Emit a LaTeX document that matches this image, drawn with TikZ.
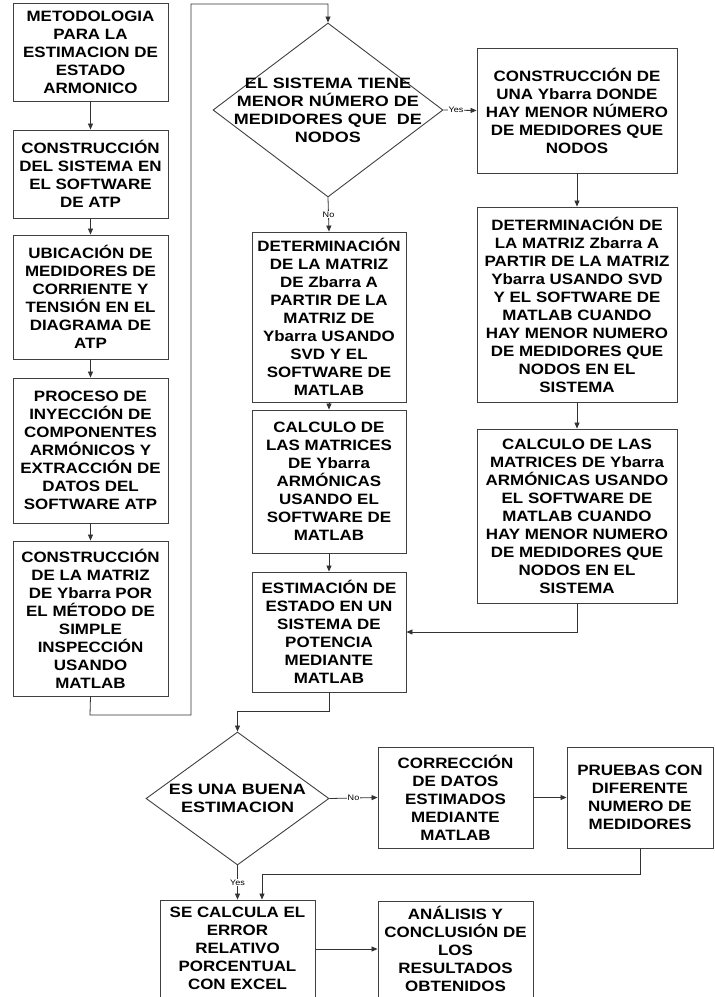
\documentclass[tikz,border=0pt]{standalone}
\usepackage{fontspec}
\setmainfont{Liberation Sans}[FakeStretch=1.13]
\newfontfamily\diafont{Liberation Sans}[FakeStretch=1.2]
\usetikzlibrary{shapes.geometric,arrows.meta}
\tikzset{
  box/.style={draw=black!75, line width=0.9pt, rectangle, align=center, inner sep=1pt,
    font=\bfseries\fontsize{15}{18}\selectfont, text=black},
  wh/.style 2 args={minimum width=#1pt, minimum height=#2pt},
  dia/.style={draw=black!75, line width=0.9pt, diamond, inner sep=0pt},
  dtxt/.style={align=center, inner sep=0pt, font=\diafont\bfseries\fontsize{15}{18}\selectfont},
  arr/.style={draw=black!80, line width=0.8pt, -{Triangle[length=6pt,width=5pt]}},
  lab/.style={fill=white, inner sep=1pt, font=\fontsize{8}{9}\selectfont},
}
\begin{document}
\begin{tikzpicture}[x=1pt,y=-1pt]
\useasboundingbox (0,0) rectangle (715,997);
\clip (0,0) rectangle (715,997);
\fill[white] (0,0) rectangle (715,997);
% left column
\node[box, wh={155}{98}] (b1) at (90.5,52) {METODOLOGIA\\PARA LA\\ESTIMACION DE\\ESTADO\\ARMONICO};
\node[box, wh={155}{88}] (b2) at (90.5,174) {CONSTRUCCIÓN\\DEL SISTEMA EN\\EL SOFTWARE\\DE ATP};
\node[box, wh={155}{124}] (b3) at (90.5,297) {UBICACIÓN DE\\MEDIDORES DE\\CORRIENTE Y\\TENSIÓN EN EL\\DIAGRAMA DE\\ATP};
\node[box, wh={155}{145}] (b4) at (90.5,450.5) {PROCESO DE\\INYECCIÓN DE\\COMPONENTES\\ARMÓNICOS Y\\EXTRACCIÓN DE\\DATOS DEL\\SOFTWARE ATP};
\node[box, wh={155}{155}] (b5) at (90.5,618.5) {CONSTRUCCIÓN\\DE LA MATRIZ\\DE Ybarra POR\\EL MÉTODO DE\\SIMPLE\\INSPECCIÓN\\USANDO\\MATLAB};
% decision 1
\node[dia, minimum width=230pt, minimum height=174pt] (d1) at (328,110) {};
\node[dtxt] (d1t) at (d1.center) {EL SISTEMA TIENE\\MENOR NÚMERO DE\\MEDIDORES QUE\ \ DE\\NODOS};
% right column
\node[box, wh={200}{125}] (r1) at (577,110.5) {CONSTRUCCIÓN DE\\UNA Ybarra DONDE\\HAY MENOR NÚMERO\\DE MEDIDORES QUE\\NODOS};
\node[box, wh={200}{195}] (r2) at (577,304.5) {DETERMINACIÓN DE\\LA MATRIZ Zbarra A\\PARTIR DE LA MATRIZ\\Ybarra USANDO SVD\\Y EL SOFTWARE DE\\MATLAB CUANDO\\HAY MENOR NUMERO\\DE MEDIDORES QUE\\NODOS EN EL\\SISTEMA};
\node[box, wh={200}{174}] (r3) at (577,516) {CALCULO DE LAS\\MATRICES DE Ybarra\\ARMÓNICAS USANDO\\EL SOFTWARE DE\\MATLAB CUANDO\\HAY MENOR NUMERO\\DE MEDIDORES QUE\\NODOS EN EL\\SISTEMA};
% middle column
\node[box, wh={154}{170}] (m1) at (329,317) {DETERMINACIÓN\\DE LA MATRIZ\\DE Zbarra A\\PARTIR DE LA\\MATRIZ DE\\Ybarra USANDO\\SVD Y EL\\SOFTWARE DE\\MATLAB};
\node[box, wh={154}{143}] (m2) at (329,481.5) {CALCULO DE\\LAS MATRICES\\DE Ybarra\\ARMÓNICAS\\USANDO EL\\SOFTWARE DE\\MATLAB};
\node[box, wh={154}{120}] (m3) at (329,632) {ESTIMACIÓN DE\\ESTADO EN UN\\SISTEMA DE\\POTENCIA\\MEDIANTE\\MATLAB};
% decision 2
\node[dia, minimum width=183pt, minimum height=133pt] (d2) at (237.5,798.5) {};
\node[dtxt] (d2t) at (d2.center) {ES UNA BUENA\\ESTIMACION};
\node[box, wh={155}{101}] (c1) at (455.5,797.5) {CORRECCIÓN\\DE DATOS\\ESTIMADOS\\MEDIANTE\\MATLAB};
\node[box, wh={146}{101}] (c2) at (640,797.5) {PRUEBAS CON\\DIFERENTE\\NUMERO DE\\MEDIDORES};
% bottom boxes run past the lower edge of the picture
\node[box, wh={155}{112}] (e1) at (237.5,956) {SE CALCULA EL\\ERROR\\RELATIVO\\PORCENTUAL\\CON EXCEL\rule[-16pt]{0pt}{16pt}};
\node[box, wh={155}{112}] (e2) at (455.5,957) {ANÁLISIS Y\\CONCLUSIÓN DE\\LOS\\RESULTADOS\\OBTENIDOS\rule[-16pt]{0pt}{16pt}};
% connectors
\draw[arr] (b1) -- (b2);
\draw[arr] (b2) -- (b3);
\draw[arr] (b3) -- (b4);
\draw[arr] (b4) -- (b5);
\coordinate (p1) at (90,715);
\coordinate (p2) at (191,715);
\coordinate (p3) at (191,4);
\coordinate (p4) at (328,4);
\draw[arr] (b5.south) -- (p1) -- (p2) -- (p3) -- (p4) -- (d1.north);
\draw[arr] (d1.east) -- node[lab, pos=0.38]{Yes} (r1.west);
\draw[arr] (d1.south) -- node[lab, pos=0.5]{No} (m1.north);
\draw[arr] (r1) -- (r2);
\draw[arr] (r2) -- (r3);
\draw[arr] (r3.south) |- (m3.east);
\draw[arr] (m1) -- (m2);
\draw[arr] (m2) -- (m3);
\coordinate (k1) at (329,711);
\draw[arr] (m3.south) -- (k1) -| (d2.north);
\draw[arr] (d2.east) -- node[lab, pos=0.5]{No} (c1.west);
\draw[arr] (c1) -- (c2);
\draw[arr] (d2.south) -- node[lab, pos=0.5]{Yes} (e1.north);
\coordinate (j1) at (640,874);
\coordinate (j2) at (262,874);
\coordinate (j3) at (315,949);
\draw[arr] (c2.south) -- (j1) -- (j2) -- (j2 |- e1.north);
\draw[arr] (j3) -- (j3 -| e2.west);
\end{tikzpicture}
\end{document}
